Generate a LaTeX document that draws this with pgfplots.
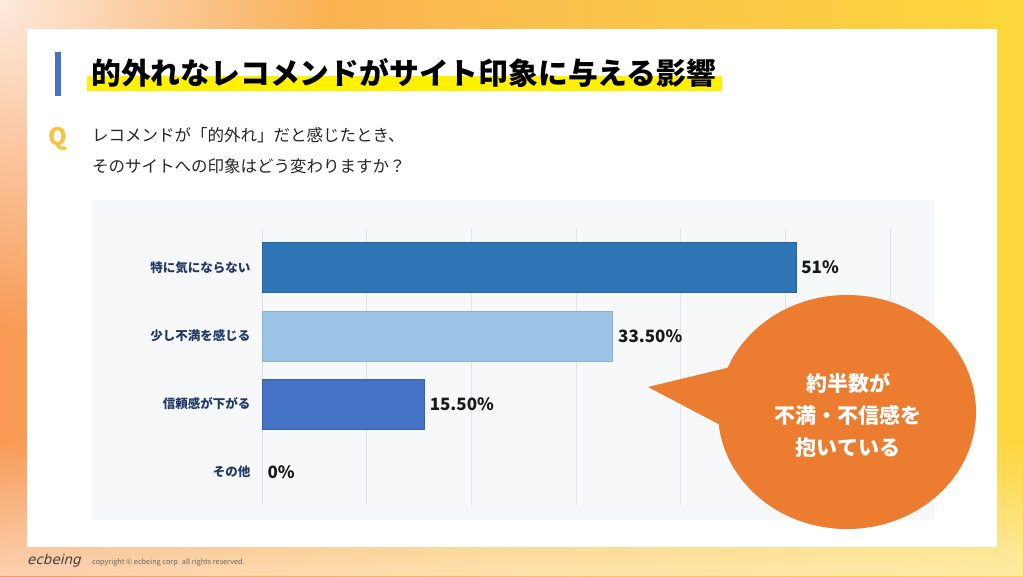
\documentclass[border=0pt]{standalone}
\usepackage{fontspec}
\setmainfont{Noto Sans CJK JP}
\newfontfamily\logofont{DejaVu Sans}[FakeSlant=0.25]
\usepackage{pgfplots}
\pgfplotsset{compat=1.18}
\usetikzlibrary{fadings}
\tikzfading[name=softfade, inner color=transparent!0, outer color=transparent!100]
\definecolor{bgorange}{HTML}{F89A55}
\definecolor{bgmid}{HTML}{FBBF4E}
\definecolor{bgyellow}{HTML}{FDD63C}
\definecolor{panel}{HTML}{F6F8FA}
\definecolor{gridc}{HTML}{DFE4EA}
\definecolor{cA}{HTML}{2E75B6}
\definecolor{cB}{HTML}{9DC3E6}
\definecolor{cC}{HTML}{4472C4}
\definecolor{navy}{HTML}{1F3864}
\definecolor{callout}{HTML}{EC7C30}
\definecolor{hl}{HTML}{FFF200}
\definecolor{qcol}{HTML}{F5C445}
\definecolor{titlebar}{HTML}{4472C4}
\pgfplotstableread{
v y lab
51 0 51\%
33.5 1 33.50\%
15.5 2 15.50\%
0 3 0\%
}\datatable
\begin{document}
\begin{tikzpicture}
\begin{scope}[x=1pt,y=-1pt]
\useasboundingbox (0,0) rectangle (1024,576);
% background gradient
\shade[left color=bgorange, right color=bgyellow, middle color=bgmid] (0,0) rectangle (1024,576);
\fill[white, fill opacity=0.55, path fading=north] (0,440) rectangle (1024,576);
\fill[white, fill opacity=0.8, path fading=softfade] (0,0) circle [radius=330];
% card
\fill[white] (27,29) rectangle (997,547);
% panel
\fill[panel] (92,200) rectangle (935,520);
% title
\fill[titlebar] (55,52) rectangle (61,96);
\fill[hl] (87,76) rectangle (722,91);
\node[anchor=west, inner sep=0pt, font=\bfseries\fontsize{29.8}{32}\selectfont] at (91,73) {的外れなレコメンドがサイト印象に与える影響};
% question
\node[anchor=center, inner sep=0pt, text=qcol, font=\bfseries\fontsize{24}{28}\selectfont] at (58,139) {Q};
\node[anchor=west, inner sep=0pt, text=black!85, font=\fontsize{16.5}{18}\selectfont] at (92,135) {レコメンドが「的外れ」だと感じたとき、};
\node[anchor=west, inner sep=0pt, text=black!85, font=\fontsize{16.5}{18}\selectfont] at (92,166) {そのサイトへの印象はどう変わりますか？};
% footer
\node[anchor=west, inner sep=0pt, text=black!75, font=\logofont\fontsize{13.5}{16}\selectfont] at (27,561) {ecbeing};
\node[anchor=west, inner sep=0pt, text=black!60, font=\fontsize{7.3}{8}\selectfont] at (92,562) {copyright © ecbeing corp. all rights reserved.};
\end{scope}
\begin{axis}[
  at={(262pt,-228pt)}, anchor=north west,
  scale only axis, width=628pt, height=277pt,
  xmin=0, xmax=60, ymin=-0.58, ymax=3.48, y dir=reverse,
  xbar, bar width=50pt, bar shift=0pt,
  axis line style={draw=none},
  xtick={0,10,...,60}, xticklabels={},
  xmajorgrids, grid style={color=gridc, line width=0.9pt},
  ytick={0,1,2,3},
  yticklabels={特に気にならない,少し不満を感じる,信頼感が下がる,その他},
  yticklabel style={font=\bfseries\fontsize{12.5}{14}\selectfont, text=navy, xshift=-8pt},
  major tick length=0pt,
  clip=false,
  nodes near coords, point meta=explicit symbolic,
  nodes near coords style={font=\bfseries\fontsize{17}{19}\selectfont, text=black!90, anchor=west, xshift=2pt},
]
\addplot[fill=cA, draw=cA!85!black, bar shift=0pt] table[x=v, y=y, meta=lab, skip coords between index={1}{4}] {\datatable};
\addplot[fill=cB, draw=cB!90!black, bar shift=0pt] table[x=v, y=y, meta=lab, skip coords between index={0}{1}, skip coords between index={2}{4}] {\datatable};
\addplot[fill=cC, draw=cC!85!black, bar shift=0pt] table[x=v, y=y, meta=lab, skip coords between index={0}{2}, skip coords between index={3}{4}] {\datatable};
\addplot[fill=none, draw=none, bar shift=0pt] table[x=v, y=y, meta=lab, skip coords between index={0}{3}] {\datatable};
\end{axis}
\begin{scope}[x=1pt,y=-1pt]
\fill[callout] (847,412) ellipse [x radius=129, y radius=117];
\fill[callout] (648,387) -- (735,366) -- (726,428) -- cycle;
\node[align=center, text=white, font=\bfseries\fontsize{21}{32}\selectfont] at (848,415) {約半数が\\不満・不信感を\\抱いている};
\end{scope}
\end{tikzpicture}
\end{document}
